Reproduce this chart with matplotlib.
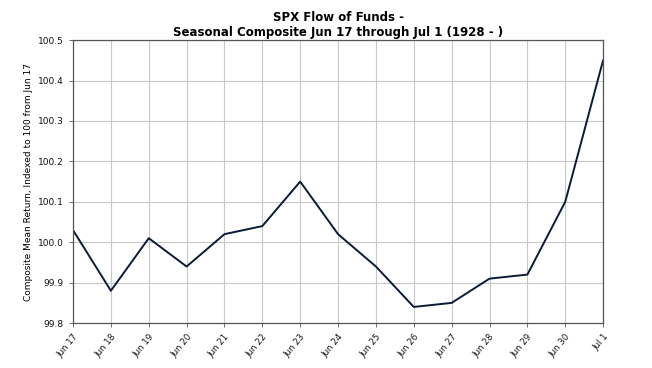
#!/usr/bin/env python3

import matplotlib
matplotlib.use('Agg')
import matplotlib.pyplot as plt

days = ['Jun 17', 'Jun 18', 'Jun 19', 'Jun 20', 'Jun 21', 'Jun 22', 'Jun 23', 'Jun 24',
        'Jun 25', 'Jun 26', 'Jun 27', 'Jun 28', 'Jun 29', 'Jun 30', 'Jul 1']
composite = [100.03, 99.88, 100.01, 99.94, 100.02, 100.04, 100.15, 100.02,
             99.94, 99.84, 99.85, 99.91, 99.92, 100.10, 100.45]
yticks = [99.8, 99.9, 100.0, 100.1, 100.2, 100.3, 100.4, 100.5]

fig = plt.figure(figsize=(6.52, 3.68), dpi=100)
ax = fig.add_axes([0.112, 0.122, 0.813, 0.769])

x = range(len(days))
ax.plot(x, composite, color='#0b1a35', lw=1.4)

ax.set_xlim(0, len(days) - 1)
ax.set_ylim(99.8, 100.5)
ax.set_xticks(list(x))
ax.set_xticklabels(days, rotation=50, ha='right', rotation_mode='anchor', fontsize=6.2)
ax.set_yticks(yticks)
ax.set_yticklabels(['%.1f' % v for v in yticks], fontsize=6.5)
ax.tick_params(length=3, width=0.6, colors='#555555', labelcolor='#111111')
ax.grid(True, color='#c8c8c8', lw=0.8)
for s in ax.spines.values():
    s.set_color('#555555')
    s.set_linewidth(0.9)

ax.set_ylabel('Composite Mean Return, Indexed to 100 from Jun 17', fontsize=6.5)
ax.set_title('SPX Flow of Funds -\nSeasonal Composite Jun 17 through Jul 1 (1928 - )',
             fontsize=8.5, fontweight='bold', linespacing=1.15, pad=3)

fig.savefig('out.png', dpi=100)
